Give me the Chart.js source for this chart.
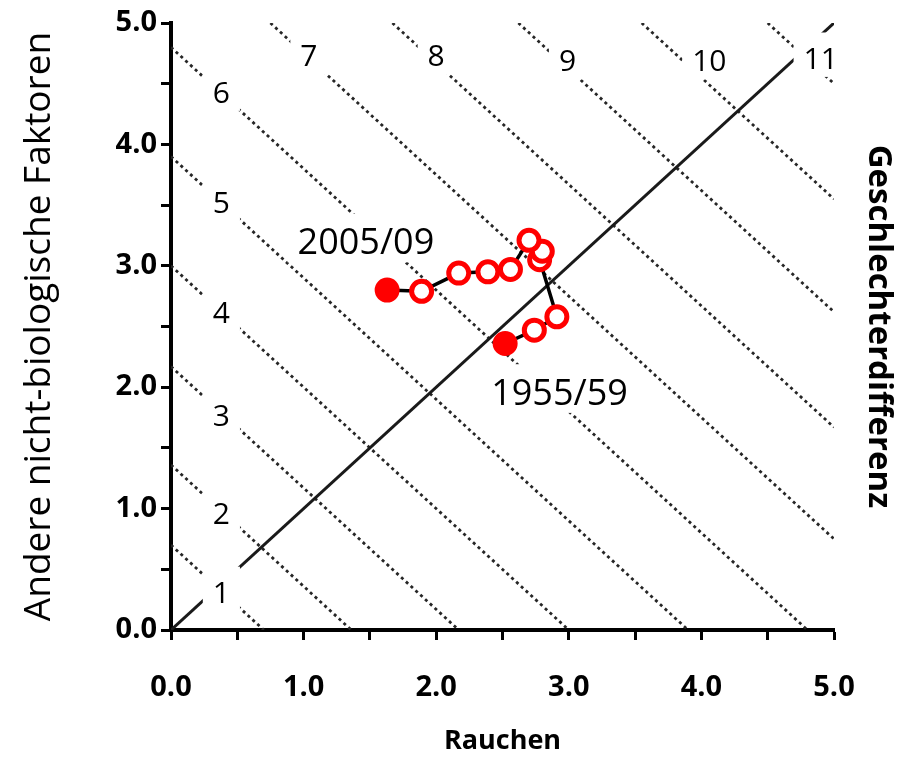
<!DOCTYPE html>
<html lang="de">
<head>
<meta charset="utf-8">
<title>Geschlechterdifferenz: Rauchen vs. andere Faktoren</title>
<script src="https://cdn.jsdelivr.net/npm/chart.js@4.4.1/dist/chart.umd.min.js"></script>
<style>
  html, body { margin: 0; padding: 0; background: #fff; }
  canvas { display: block; }
</style>
</head>
<body>
<canvas id="chart" width="910" height="761"></canvas>
<script>
// Perioden und Beiträge (Jahre)
const periods = ['1955/59', '1960/64', '1965/69', '1970/74', '1975/79', '1980/84',
                 '1985/89', '1990/94', '1995/99', '2000/04', '2005/09'];
const smoking      = [2.52, 2.74, 2.91, 2.78, 2.80, 2.70, 2.56, 2.39, 2.17, 1.89, 1.63];
const otherFactors = [2.36, 2.47, 2.58, 3.05, 3.12, 3.21, 2.97, 2.95, 2.94, 2.79, 2.80];

// Isolinien der Geschlechterdifferenz (Rauchen + Andere = Summe)
const isoLabels = ['1', '2', '3', '4', '5', '6', '7', '8', '9', '10', '11'];
const isoSums   = [0.70, 1.36, 2.17, 3.00, 3.90, 4.80, 5.75, 6.67, 7.62, 8.55, 9.50];
const isoLabelX = [0.38, 0.38, 0.38, 0.38, 0.38, 0.38, 1.04, 2.00, 2.99, 4.06, 4.90];
const isoLabelY = [0.31, 0.96, 1.77, 2.62, 3.52, 4.43, 4.73, 4.73, 4.69, 4.69, 4.71];

// Beschriftete Perioden
const periodLabels = ['1955/59', '2005/09'];
const periodLabelX = [2.93, 1.47];
const periodLabelY = [1.96, 3.20];

// Achsen
const tickValues = [0, 1, 2, 3, 4, 5];
const tickLabels = ['0.0', '1.0', '2.0', '3.0', '4.0', '5.0'];
const minorStep = 0.5;

const FONT = '"Open Sans", "Noto Sans", sans-serif';
const RED = '#ff0000';

function tickText(v) {
  const i = tickValues.indexOf(v);
  return i >= 0 ? tickLabels[i] : '';
}

// iso lines, clipped to the 0..5 square
const isoDatasets = isoSums.map(c => ({
  data: [
    { x: Math.max(0, c - 5), y: Math.min(5, c) },
    { x: Math.min(5, c), y: Math.max(0, c - 5) }
  ],
  showLine: true,
  borderColor: '#262626',
  borderWidth: 2.8,
  borderDash: [3, 3.5],
  pointRadius: 0,
  order: 3
}));

const diagonal = {
  data: [{ x: 0, y: 0 }, { x: 5, y: 5 }],
  showLine: true,
  borderColor: '#1a1a1a',
  borderWidth: 3,
  pointRadius: 0,
  order: 2
};

const series = {
  data: smoking.map((v, i) => ({ x: v, y: otherFactors[i] })),
  showLine: true,
  borderColor: '#000',
  borderWidth: 3.5,
  pointRadius: 10,
  pointBorderWidth: 5,
  pointBorderColor: RED,
  pointBackgroundColor: periods.map((p, i) => (i === 0 || i === periods.length - 1) ? RED : '#fff'),
  order: 0
};

// white text boxes (like the original text frames) covering the lines
function drawBox(ctx, text, cx, cy, size) {
  ctx.font = size + 'px ' + FONT;
  const w = ctx.measureText(text).width;
  const h = size * 0.714;
  ctx.fillStyle = '#fff';
  ctx.fillRect(cx - w / 2 - 10, cy - h / 2 - 15, w + 20, h + 23);
  ctx.fillStyle = '#000';
  ctx.textAlign = 'center';
  ctx.textBaseline = 'alphabetic';
  ctx.fillText(text, cx, cy + h / 2);
}

const textBoxes = {
  id: 'textBoxes',
  afterDatasetsDraw(chart) {
    const { ctx, scales: { x, y } } = chart;
    ctx.save();
    isoLabels.forEach((t, i) => {
      drawBox(ctx, t, x.getPixelForValue(isoLabelX[i]), y.getPixelForValue(isoLabelY[i]), 30);
    });
    periodLabels.forEach((t, i) => {
      drawBox(ctx, t, x.getPixelForValue(periodLabelX[i]), y.getPixelForValue(periodLabelY[i]), 36);
    });
    ctx.restore();
  }
};

const axisGrid = {
  drawOnChartArea: false,
  drawTicks: true,
  tickLength: 10,
  tickWidth: 3,
  color: '#000'
};

new Chart(document.getElementById('chart').getContext('2d'), {
  type: 'scatter',
  data: { datasets: [...isoDatasets, diagonal, series] },
  options: {
    responsive: false,
    animation: false,
    layout: { padding: { top: 23, left: 0, right: 0, bottom: 0 } },
    plugins: { legend: { display: false }, tooltip: { enabled: false } },
    scales: {
      x: {
        type: 'linear',
        min: 0, max: 5,
        afterFit: s => { s.height = 131; },
        ticks: {
          stepSize: minorStep, autoSkip: false, maxRotation: 0,
          padding: 30, color: '#000',
          font: { family: FONT, size: 29, weight: 'bold' },
          callback: v => tickText(v)
        },
        grid: axisGrid,
        border: { color: '#000', width: 4 },
        title: {
          display: true, text: 'Rauchen', color: '#000',
          font: { family: FONT, size: 27, weight: 'bold' },
          padding: { top: 0, bottom: 3 }
        }
      },
      y: {
        type: 'linear',
        min: 0, max: 5,
        afterFit: s => { s.width = 171; },
        ticks: {
          stepSize: minorStep, autoSkip: false,
          padding: 4, color: '#000',
          font: { family: FONT, size: 29, weight: 'bold' },
          callback: v => tickText(v)
        },
        grid: axisGrid,
        border: { color: '#000', width: 4 },
        title: {
          display: true, text: 'Andere nicht-biologische Faktoren', color: '#000',
          font: { family: FONT, size: 37 },
          padding: { top: 17, bottom: 0 }
        }
      },
      y2: {
        type: 'linear',
        position: 'right',
        min: 0, max: 5,
        afterFit: s => { s.width = 76; },
        ticks: { display: false },
        grid: { display: false },
        border: { display: false },
        title: {
          display: true, text: 'Geschlechterdifferenz', color: '#000',
          font: { family: FONT, size: 33, weight: 'bold' },
          padding: { top: 12, bottom: 0 }
        }
      }
    }
  },
  plugins: [textBoxes]
});
</script>
</body>
</html>
